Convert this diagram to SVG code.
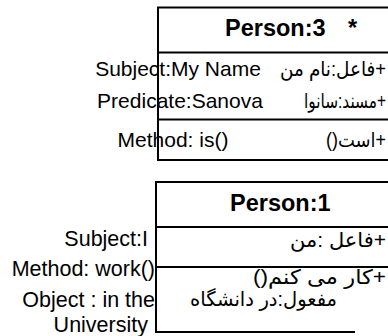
<svg xmlns="http://www.w3.org/2000/svg" width="388" height="336" viewBox="0 0 388 336">
<style>
.ln{fill:none;stroke:#000;stroke-width:2}
.t{font-family:"Liberation Sans","DejaVu Sans",Arial,sans-serif;fill:#000}
.b1{font-size:21px}
.b2{font-size:21.5px}
.ar{font-size:20px}
.ttl{font-size:23.5px;font-weight:bold}
</style>
<rect width="388" height="336" fill="#fff"/>
<g id="person3">
<path class="ln" d="M400,7.5 H158 V160 H400 M158,52.5 H400 M158,119.5 H400"/>
<text class="t ttl" x="225" y="36">Person:3<tspan dx="16"> *</tspan></text>
<text class="t b1" x="178" y="76" text-anchor="middle">Subject:My Name</text>
<text class="t b1" x="180" y="108" text-anchor="middle">Predicate:Sanova</text>
<text class="t b1" x="173" y="147" text-anchor="middle">Method: is()</text>
<text class="t ar" x="386" y="76" direction="rtl" text-anchor="start" textLength="106" lengthAdjust="spacingAndGlyphs">+فاعل:نام من</text>
<text class="t ar" x="386" y="108" direction="rtl" text-anchor="start" textLength="82" lengthAdjust="spacingAndGlyphs">+مسند:سانوا</text>
<text class="t ar" x="386" y="147" direction="rtl" text-anchor="start" textLength="60" lengthAdjust="spacingAndGlyphs">+است()</text>
</g>
<g id="person1">
<path class="ln" d="M400,182 H156 V332 H355 M156,227 H400 M156,267 H400"/>
<text class="t ttl" x="230" y="211">Person:1</text>
<text class="t b2" x="148" y="246" text-anchor="end">Subject:I</text>
<text class="t b2" x="155" y="276" text-anchor="end">Method: work()</text>
<text class="t b2" x="155" y="307" text-anchor="end">Object : in the</text>
<text class="t b2" x="148" y="332" text-anchor="end">University</text>
<text class="t ar" x="386" y="247" direction="rtl" text-anchor="start" textLength="96" lengthAdjust="spacingAndGlyphs">+فاعل :من</text>
<text class="t ar" x="386" y="284" direction="rtl" text-anchor="start" textLength="133" lengthAdjust="spacingAndGlyphs">+کار می کنم()</text>
<text class="t ar" x="337" y="306" direction="rtl" text-anchor="start" textLength="147" lengthAdjust="spacingAndGlyphs">مفعول:در دانشگاه</text>
</g>
<g id="connectors"/>
</svg>
